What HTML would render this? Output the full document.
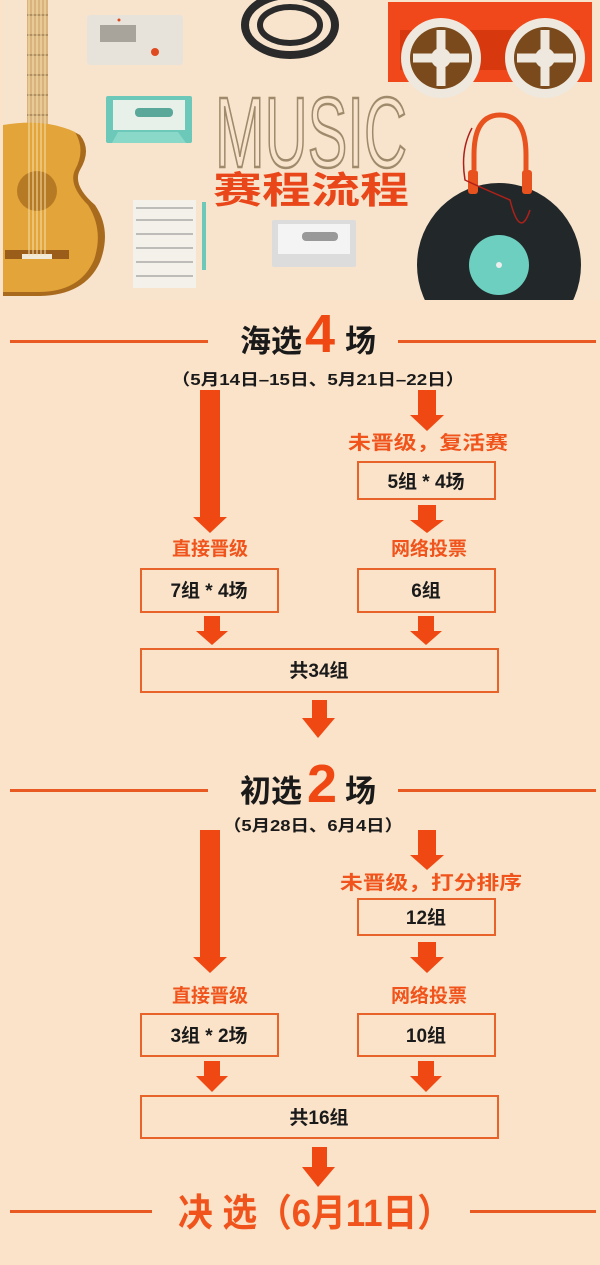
<!DOCTYPE html>
<html><head><meta charset="utf-8"><style>
html,body{margin:0;padding:0;background:#fae3c9;}
svg{display:block}
text{font-family:"Liberation Sans","Noto Sans CJK SC",sans-serif;font-weight:bold}
</style></head><body>
<svg width="600" height="1265" viewBox="0 0 600 1265" xmlns="http://www.w3.org/2000/svg">
<rect width="600" height="1265" fill="#fae3c9"/>
<!-- header -->
<rect x="3" y="0" width="597" height="300" fill="#f8e4cc"/>
<!-- guitar -->
<rect x="27" y="0" width="21" height="135" fill="#d9b27c"/>
<g stroke="#8a6a40" stroke-width="1">
<line x1="27" y1="15" x2="48" y2="15"/><line x1="27" y1="35" x2="48" y2="35"/><line x1="27" y1="55" x2="48" y2="55"/><line x1="27" y1="75" x2="48" y2="75"/><line x1="27" y1="95" x2="48" y2="95"/><line x1="27" y1="115" x2="48" y2="115"/></g>
<path d="M3 128 Q50 118 80 135 Q92 150 80 170 Q72 185 95 205 Q112 230 100 262 Q85 295 40 296 L3 296 Z" fill="#a86a1c"/>
<path d="M3 125 Q45 118 75 132 Q86 150 75 170 Q68 185 88 205 Q104 230 94 260 Q80 292 38 292 L3 292 Z" fill="#e3a43a"/>
<circle cx="37" cy="191" r="20" fill="#b77a24"/>
<rect x="5" y="250" width="64" height="9" fill="#9a5e1a"/>
<rect x="22" y="254" width="30" height="5" fill="#f2ead8"/>
<g stroke="#f5e2b0" stroke-width="1"><line x1="29" y1="0" x2="29" y2="256"/><line x1="33" y1="0" x2="33" y2="256"/><line x1="37" y1="0" x2="37" y2="256"/><line x1="41" y1="0" x2="41" y2="256"/><line x1="45" y1="0" x2="45" y2="256"/></g>
<!-- device -->
<rect x="87" y="15" width="96" height="50" rx="3" fill="#e8e3da"/>
<rect x="100" y="25" width="36" height="17" fill="#a8a49c"/>
<circle cx="155" cy="52" r="4" fill="#e04a20"/>
<circle cx="119" cy="20" r="1.5" fill="#e04a20"/>
<!-- teal cassette -->
<rect x="106" y="96" width="86" height="47" rx="2" fill="#6cc8b8"/>
<rect x="113" y="100" width="72" height="30" fill="#e8f0ea"/>
<rect x="135" y="108" width="38" height="9" rx="4" fill="#5aa89a"/>
<path d="M112 143 L118 132 L178 132 L186 143 Z" fill="#8ad8c8"/>
<!-- sheet -->
<rect x="133" y="200" width="63" height="88" fill="#f4f0ea"/>
<g stroke="#666" stroke-width="0.7"><line x1="136" y1="208" x2="193" y2="208"/><line x1="136" y1="220" x2="193" y2="220"/><line x1="136" y1="234" x2="193" y2="234"/><line x1="136" y1="248" x2="193" y2="248"/><line x1="136" y1="262" x2="193" y2="262"/><line x1="136" y1="276" x2="193" y2="276"/></g>
<rect x="202" y="202" width="4" height="68" fill="#6cc8b8"/>
<!-- cable coil -->
<ellipse cx="290" cy="25" rx="45" ry="30" fill="none" stroke="#2a2a2a" stroke-width="8"/>
<ellipse cx="290" cy="25" rx="30" ry="18" fill="none" stroke="#2a2a2a" stroke-width="6"/>
<!-- white cassette -->
<rect x="272" y="220" width="84" height="47" rx="2" fill="#dcdcdc"/>
<rect x="278" y="224" width="72" height="30" fill="#f4f4f4"/>
<rect x="302" y="232" width="36" height="9" rx="4" fill="#999"/>
<!-- MUSIC -->
<text x="311" y="167" font-size="100" text-anchor="middle" fill="none" stroke="#a08a6c" stroke-width="2.5" textLength="192" lengthAdjust="spacingAndGlyphs" style="font-family:'Liberation Sans Narrow','Liberation Sans',sans-serif;font-weight:normal">MUSIC</text>
<text x="311" y="203" font-size="37" text-anchor="middle" fill="#e9461a" textLength="196" lengthAdjust="spacingAndGlyphs">赛程流程</text>
<!-- tape recorder -->
<rect x="388" y="2" width="204" height="80" fill="#f0481a"/>
<rect x="400" y="30" width="180" height="40" fill="#d8380e"/>
<g fill="#eee8de"><circle cx="441" cy="58" r="40"/><circle cx="545" cy="58" r="40"/></g>
<g fill="#7a4a1c"><circle cx="441" cy="58" r="31"/><circle cx="545" cy="58" r="31"/></g>
<g stroke="#eee8de" stroke-width="9"><line x1="413" y1="58" x2="469" y2="58"/><line x1="441" y1="30" x2="441" y2="86"/><line x1="517" y1="58" x2="573" y2="58"/><line x1="545" y1="30" x2="545" y2="86"/></g>
<g fill="#eee8de"><circle cx="441" cy="58" r="10"/><circle cx="545" cy="58" r="10"/></g>
<!-- vinyl -->
<clipPath id="c"><rect x="0" y="0" width="600" height="300"/></clipPath>
<g clip-path="url(#c)">
<circle cx="499" cy="265" r="82" fill="#22282a"/>
<circle cx="499" cy="265" r="30" fill="#6ccfc0"/>
<circle cx="499" cy="265" r="3" fill="#eee"/>
</g>
<path d="M474 170 L474 155 Q474 115 500 115 Q526 115 526 155 L526 180" fill="none" stroke="#e8521e" stroke-width="5"/>
<rect x="468" y="170" width="10" height="24" rx="3" fill="#e8521e"/>
<rect x="522" y="170" width="10" height="24" rx="3" fill="#e8521e"/>
<path d="M472 128 Q460 150 465 180 Q475 185 510 200 Q520 240 530 210" fill="none" stroke="#b0201a" stroke-width="1.5"/>

<!-- SECTION 1 -->
<g fill="#e85a22"><rect x="10" y="340" width="198" height="3"/><rect x="398" y="340" width="198" height="3"/></g>
<text x="240" y="352" font-size="31" fill="#1a1a1a">海选</text>
<text x="320" y="352" font-size="54" fill="#f04812" text-anchor="middle" style="font-family:'Liberation Sans',sans-serif">4</text>
<text x="345" y="352" font-size="31" fill="#1a1a1a">场</text>
<text x="318" y="385" font-size="16" fill="#1a1a1a" text-anchor="middle" textLength="293" lengthAdjust="spacingAndGlyphs">（5月14日–15日、5月21日–22日）</text>

<g fill="#f04812">
<rect x="200" y="390" width="20" height="128"/><path d="M193 517 L227 517 L210 533 Z"/>
<rect x="418" y="390" width="18" height="26"/><path d="M410 415 L444 415 L427 431 Z"/>
<rect x="418" y="505" width="18" height="16"/><path d="M410 520 L444 520 L427 533 Z"/>
<rect x="204" y="616" width="16" height="16"/><path d="M196 631 L228 631 L212 645 Z"/>
<rect x="418" y="616" width="16" height="16"/><path d="M410 631 L442 631 L426 645 Z"/>
<rect x="312" y="700" width="15" height="19"/><path d="M302 718 L335 718 L318 738 Z"/>
</g>
<text x="428" y="449" font-size="19" fill="#f0541c" text-anchor="middle" textLength="160" lengthAdjust="spacingAndGlyphs">未晋级，复活赛</text>
<rect x="358" y="462" width="137" height="37" fill="none" stroke="#e8632a" stroke-width="2"/>
<text x="426" y="488" font-size="19" fill="#1a1a1a" text-anchor="middle">5组 * 4场</text>
<text x="210" y="555" font-size="19" fill="#f0541c" text-anchor="middle">直接晋级</text>
<text x="429" y="555" font-size="19" fill="#f0541c" text-anchor="middle">网络投票</text>
<rect x="141" y="569" width="137" height="43" fill="none" stroke="#e8632a" stroke-width="2"/>
<rect x="358" y="569" width="137" height="43" fill="none" stroke="#e8632a" stroke-width="2"/>
<text x="209" y="597" font-size="19" fill="#1a1a1a" text-anchor="middle">7组 * 4场</text>
<text x="426" y="597" font-size="19" fill="#1a1a1a" text-anchor="middle">6组</text>
<rect x="141" y="649" width="357" height="43" fill="none" stroke="#e8632a" stroke-width="2"/>
<text x="319" y="677" font-size="19" fill="#1a1a1a" text-anchor="middle">共34组</text>

<!-- SECTION 2 -->
<g fill="#e85a22"><rect x="10" y="789" width="198" height="3"/><rect x="398" y="789" width="198" height="3"/></g>
<text x="240" y="802" font-size="31" fill="#1a1a1a">初选</text>
<text x="322" y="802" font-size="54" fill="#f04812" text-anchor="middle" style="font-family:'Liberation Sans',sans-serif">2</text>
<text x="345" y="802" font-size="31" fill="#1a1a1a">场</text>
<text x="313" y="831" font-size="16" fill="#1a1a1a" text-anchor="middle" textLength="180" lengthAdjust="spacingAndGlyphs">（5月28日、6月4日）</text>
<g fill="#f04812">
<rect x="200" y="830" width="20" height="128"/><path d="M193 957 L227 957 L210 973 Z"/>
<rect x="418" y="830" width="18" height="26"/><path d="M410 855 L444 855 L427 870 Z"/>
<rect x="418" y="942" width="18" height="16"/><path d="M410 957 L444 957 L427 973 Z"/>
<rect x="204" y="1061" width="16" height="16"/><path d="M196 1076 L228 1076 L212 1092 Z"/>
<rect x="418" y="1061" width="16" height="16"/><path d="M410 1076 L442 1076 L426 1092 Z"/>
<rect x="312" y="1147" width="15" height="22"/><path d="M302 1167 L335 1167 L318 1187 Z"/>
</g>
<text x="431" y="889" font-size="19" fill="#f0541c" text-anchor="middle" textLength="182" lengthAdjust="spacingAndGlyphs">未晋级，打分排序</text>
<rect x="358" y="899" width="137" height="36" fill="none" stroke="#e8632a" stroke-width="2"/>
<text x="426" y="924" font-size="19" fill="#1a1a1a" text-anchor="middle">12组</text>
<text x="210" y="1002" font-size="19" fill="#f0541c" text-anchor="middle">直接晋级</text>
<text x="429" y="1002" font-size="19" fill="#f0541c" text-anchor="middle">网络投票</text>
<rect x="141" y="1014" width="137" height="42" fill="none" stroke="#e8632a" stroke-width="2"/>
<rect x="358" y="1014" width="137" height="42" fill="none" stroke="#e8632a" stroke-width="2"/>
<text x="209" y="1042" font-size="19" fill="#1a1a1a" text-anchor="middle">3组 * 2场</text>
<text x="426" y="1042" font-size="19" fill="#1a1a1a" text-anchor="middle">10组</text>
<rect x="141" y="1096" width="357" height="42" fill="none" stroke="#e8632a" stroke-width="2"/>
<text x="319" y="1124" font-size="19" fill="#1a1a1a" text-anchor="middle">共16组</text>

<!-- FINAL -->
<g fill="#e85a22"><rect x="10" y="1210" width="142" height="3"/><rect x="470" y="1210" width="126" height="3"/></g>
<text x="315" y="1226" font-size="38" fill="#f0541c" text-anchor="middle" textLength="274" lengthAdjust="spacingAndGlyphs">决 选（6月11日）</text>
</svg>
</body></html>
